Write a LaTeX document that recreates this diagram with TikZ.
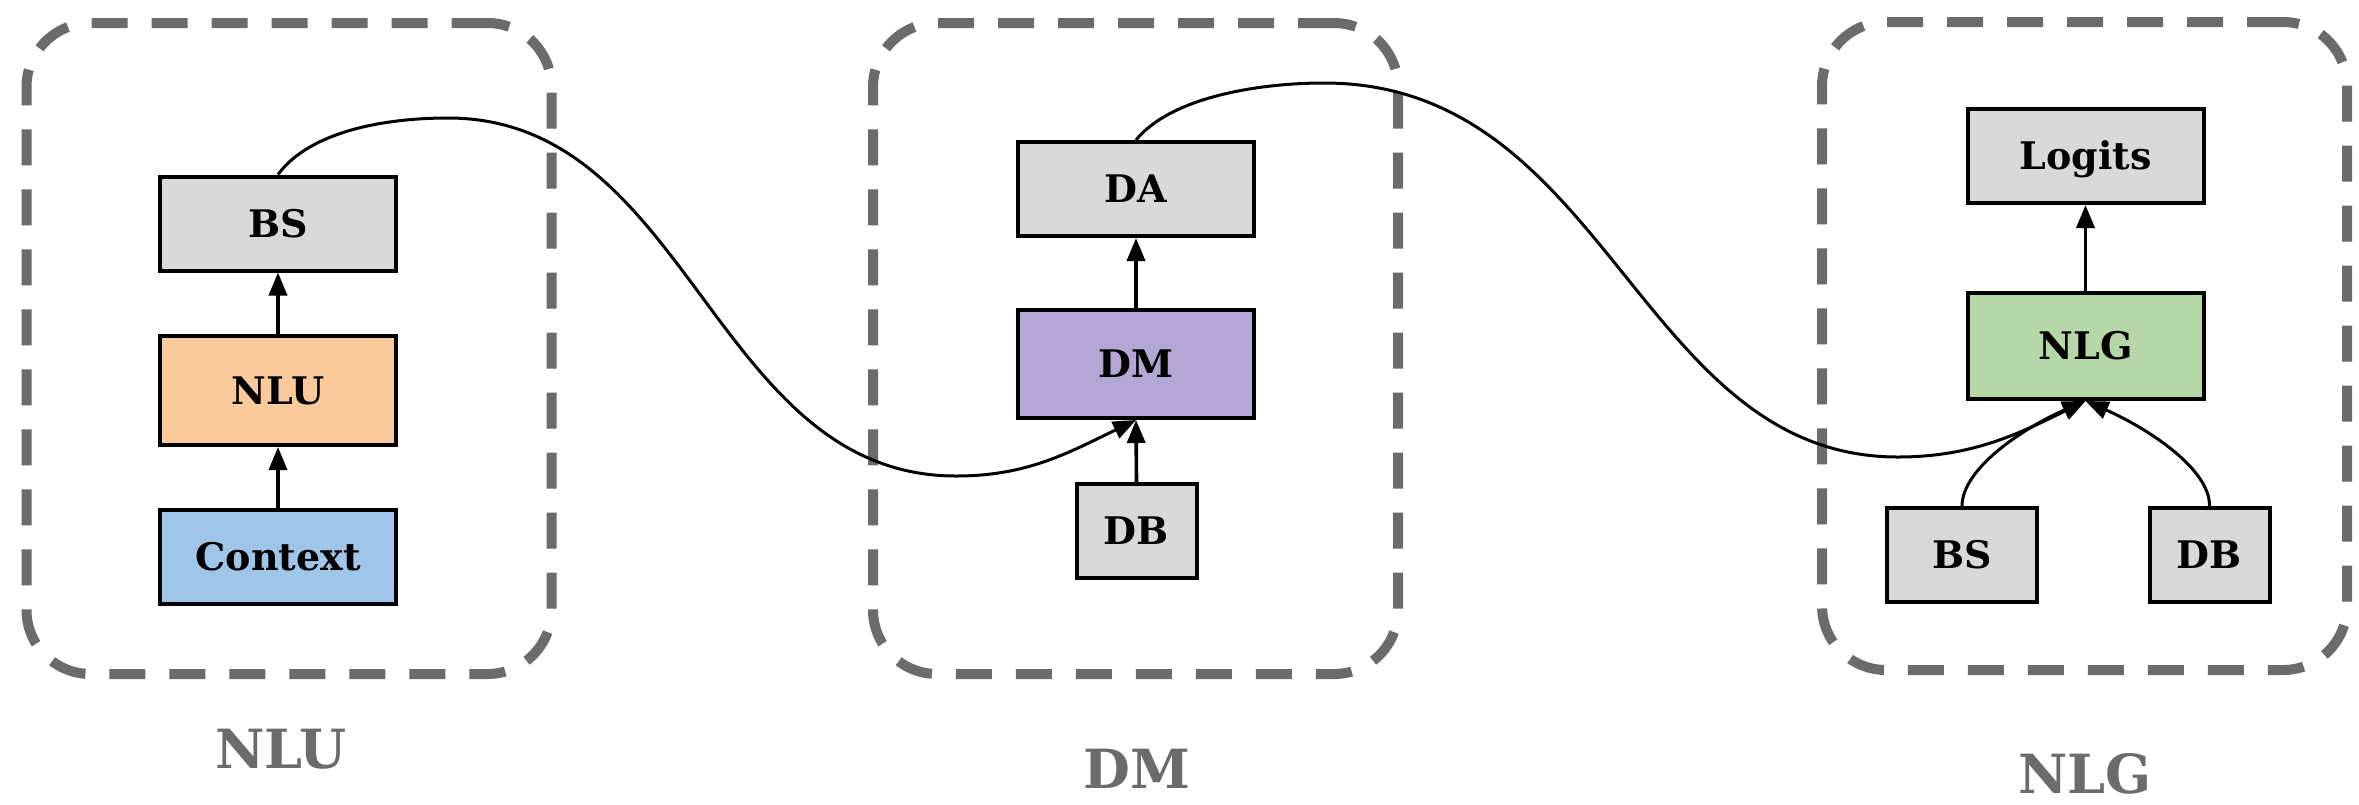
\documentclass[tikz,border=0pt]{standalone}
\usepackage{fontspec}
\setmainfont{DejaVu Serif}
\usetikzlibrary{arrows.meta}

\definecolor{boxgray}{HTML}{D9D9D9}
\definecolor{nluorange}{HTML}{F9CB9C}
\definecolor{ctxblue}{HTML}{9FC5E8}
\definecolor{dmpurple}{HTML}{B4A7D6}
\definecolor{nlggreen}{HTML}{B6D7A8}
\definecolor{grp}{HTML}{6B6B6B}

\tikzset{
  block/.style={draw=black, line width=2pt, inner sep=0pt, fill=boxgray,
    font=\fontsize{19}{22}\selectfont\bfseries, text height=13.9pt, text depth=0pt,
    minimum height=47pt},
  wide/.style={block, minimum width=118pt},
  narrow/.style={block, minimum width=60pt},
  group/.style={draw=grp, line width=5pt, dash pattern=on 18pt off 12pt,
    rounded corners=32pt, inner sep=0pt, minimum width=262.5pt},
  tag/.style={text=grp, inner sep=0pt,
    font=\fontsize{27}{30}\selectfont\bfseries, text height=19.7pt, text depth=0pt},
  flow/.style={line width=1.8pt, -{Triangle[length=11.5pt,width=9pt]}},
  link/.style={line width=1.5pt, -{Triangle[length=11.5pt,width=9pt]}}
}

\begin{document}
\begin{tikzpicture}[x=0.5pt,y=-0.5pt]
\useasboundingbox (0,0) rectangle (2359,804);
\fill[white] (0,0) rectangle (2359,804);

% dashed module frames
\node[group, minimum height=325.5pt] (g1) at (289,348.5) {};
\node[group, minimum height=325.5pt] (g2) at (1135.5,348.5) {};
\node[group, minimum height=324pt]   (g3) at (2084.5,346) {};

% module captions
\node[tag] (t1) at (281,749) {NLU};
\node[tag] (t2) at (1137,769) {DM};
\node[tag] (t3) at (2085,774) {NLG};

% NLU module
\node[wide] (bs1) at (278,223.5) {BS};
\node[wide, fill=nluorange, minimum height=54.5pt] (nlu) at (278,390.5) {NLU};
\node[wide, fill=ctxblue] (ctx) at (278,557) {Context};

% DM module
\node[wide] (da) at (1136,189) {DA};
\node[wide, fill=dmpurple, minimum height=54pt] (dm) at (1136,364) {DM};
\node[narrow] (db1) at (1136.5,531) {DB};

% NLG module
\node[wide] (logits) at (2085.5,156) {Logits};
\node[wide, fill=nlggreen, minimum height=53pt] (nlg) at (2085.5,346) {NLG};
\node[block, minimum width=75pt] (bs2) at (1962,555) {BS};
\node[narrow] (db2) at (2209.5,555) {DB};

% straight connections inside modules
\draw[flow] (ctx.north) -- (nlu.south);
\draw[flow] (nlu.north) -- (bs1.south);
\draw[flow] (db1.north) -- (dm.south);
\draw[flow] (dm.north) -- (da.south);
\draw[flow] (nlg.north) -- (logits.south);

% curved connections between modules
\draw[link] (bs1.north) .. controls (311,130) and (388,118) .. (448,118)
  .. controls (691,118) and (713,476) .. (956,476)
  .. controls (1026,476) and (1066,454) .. (dm.south);
\draw[link] (da.north) .. controls (1171,97) and (1259,83) .. (1324,83)
  .. controls (1609,83) and (1638,457) .. (1898,457)
  .. controls (1973,457) and (2020,433) .. (nlg.south);
\draw[link] (bs2.north) .. controls (1962,468) and (2025,427) .. (nlg.south);
\draw[link] (db2.north) .. controls (2210,468) and (2145,427) .. (nlg.south);
\end{tikzpicture}
\end{document}
